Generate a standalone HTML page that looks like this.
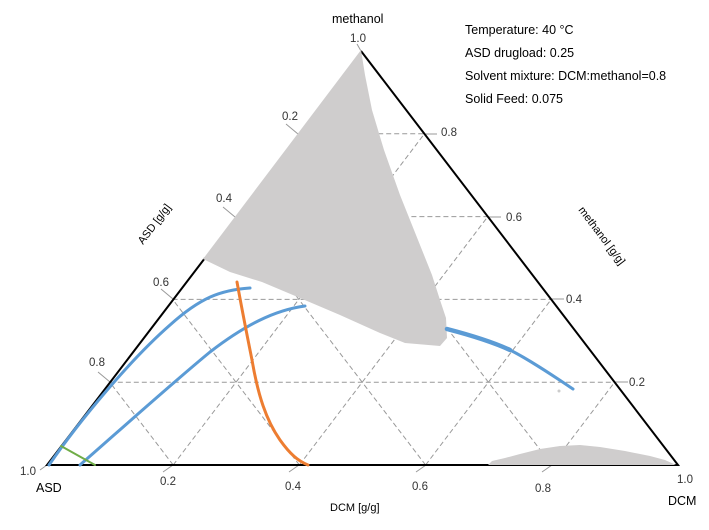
<!DOCTYPE html>
<html><head><meta charset="utf-8"><style>
body{margin:0;background:#fff;}
svg{display:block;font-family:"Liberation Sans",sans-serif;}
</style></head><body>
<svg width="709" height="530" viewBox="0 0 709 530" xmlns="http://www.w3.org/2000/svg">
<g stroke="#999" stroke-width="1" stroke-dasharray="5,3" fill="none">
<line x1="109.8" y1="382.2" x2="614.6" y2="382.2"/>
<line x1="172.6" y1="299.4" x2="551.2" y2="299.4"/>
<line x1="235.4" y1="216.6" x2="487.8" y2="216.6"/>
<line x1="298.2" y1="133.8" x2="424.4" y2="133.8"/>
<line x1="173.2" y1="465" x2="424.4" y2="133.8"/>
<line x1="299.4" y1="465" x2="487.8" y2="216.6"/>
<line x1="425.6" y1="465" x2="551.2" y2="299.4"/>
<line x1="551.8" y1="465" x2="614.6" y2="382.2"/>
<line x1="551.8" y1="465" x2="298.2" y2="133.8"/>
<line x1="425.6" y1="465" x2="235.4" y2="216.6"/>
<line x1="299.4" y1="465" x2="172.6" y2="299.4"/>
<line x1="173.2" y1="465" x2="109.8" y2="382.2"/>
</g>
<g stroke="#999" stroke-width="1">
<line x1="173" y1="465" x2="163" y2="472"/><line x1="299" y1="465" x2="289" y2="472"/>
<line x1="426" y1="465" x2="416" y2="472"/><line x1="552" y1="465" x2="542" y2="472"/>
<line x1="110" y1="382" x2="98" y2="372"/><line x1="173" y1="299" x2="161" y2="289"/>
<line x1="235" y1="217" x2="223" y2="207"/><line x1="298" y1="134" x2="286" y2="124"/>
<line x1="424" y1="134" x2="437" y2="134"/><line x1="488" y1="217" x2="501" y2="217"/>
<line x1="551" y1="299" x2="564" y2="299"/><line x1="615" y1="382" x2="628" y2="382"/>
<line x1="47" y1="465" x2="40" y2="470"/><line x1="361" y1="51" x2="357" y2="44"/>
</g>
<g stroke="#000" stroke-width="2" fill="none"><path d="M205,258 L47,465 L678,465 L361,51"/></g>
<path fill="#cfcdcd" d="M361,50 L203,259 L230,272 L262,282 L300,298 L340,315 L380,333 L405,343 L440,346 L447,338 L446,318 L440,300 L432,275 L418,240 L400,195 L384,150 L372,110 L365,75 Z"/>
<path fill="#cfcdcd" d="M488,465 L492,461 L505,458 L520,454 L540,449 L560,446 L580,445 L600,447 L625,451 L650,456 L665,460 L676,465 Z"/>
<circle cx="559" cy="391" r="1.5" fill="#ccc"/>
<g fill="none" stroke-linecap="round">
<path stroke="#5b9bd5" stroke-width="3" d="M49,465 C80,420 130,360 170,325 C200,298 220,290 250,288"/>
<path stroke="#5b9bd5" stroke-width="3" d="M80,465 C120,430 170,385 210,352 C245,325 275,310 305,306"/>
<path stroke="#5b9bd5" stroke-width="4.5" d="M447,329 C470,335 495,343 510,350"/>
<path stroke="#5b9bd5" stroke-width="3" d="M510,350 C530,360 555,377 573,389"/>
<path stroke="#ed7d31" stroke-width="3" d="M237,282 C242,310 247,335 252,360 C258,395 266,420 280,440 C290,454 298,461 308,465"/>
<path stroke="#70ad47" stroke-width="2" d="M61,446 L95,465"/>
</g>
<g font-size="11.5" fill="#333">
<text x="160" y="485">0.2</text><text x="285" y="490">0.4</text><text x="412" y="490">0.6</text><text x="535" y="492">0.8</text>
<text x="20" y="475">1.0</text><text x="677" y="483">1.0</text><text x="350" y="42">1.0</text>
<text x="89" y="366">0.8</text><text x="153" y="286">0.6</text><text x="216" y="202">0.4</text><text x="282" y="120">0.2</text>
<text x="441" y="136">0.8</text><text x="506" y="221">0.6</text><text x="566" y="303">0.4</text><text x="629" y="386">0.2</text>
</g>
<g font-size="12.5" fill="#000">
<text x="332" y="23">methanol</text>
<text x="36" y="492">ASD</text>
<text x="668" y="505">DCM</text>
<text x="330" y="511" font-size="11">DCM [g/g]</text>
<text transform="translate(143,245) rotate(-53)" font-size="11">ASD [g/g]</text>
<text transform="translate(578,210) rotate(53)" font-size="11">methanol [g/g]</text>
<text x="465" y="34">Temperature: 40 °C</text>
<text x="465" y="57">ASD drugload: 0.25</text>
<text x="465" y="80">Solvent mixture: DCM:methanol=0.8</text>
<text x="465" y="103">Solid Feed: 0.075</text>
</g>
</svg>
</body></html>
